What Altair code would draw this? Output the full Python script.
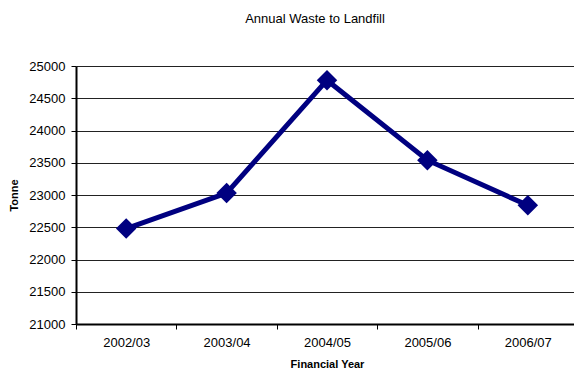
import altair as alt
import pandas as pd

years = ["2002/03", "2003/04", "2004/05", "2005/06", "2006/07"]
tonnes = [22480, 23030, 24780, 23540, 22840]
y_ticks = [21000, 21500, 22000, 22500, 23000, 23500, 24000, 24500, 25000]

df = pd.DataFrame({"year": years, "tonne": tonnes})

FONT = "Liberation Sans"

base = alt.Chart(df).encode(
    x=alt.X(
        "year:N",
        sort=years,
        bandPosition=0.5,
        scale=alt.Scale(type="band", paddingInner=0, paddingOuter=0, range=[0, 502]),
        axis=alt.Axis(
            title="Financial Year",
            labelAngle=0,
            tickBand="extent",
            grid=False,
            domainColor="#000000",
            domainWidth=2,
            tickColor="#000000",
            tickWidth=1,
            tickSize=5,
            labelPadding=7,
            labelFontSize=13,
            labelColor="#000000",
            labelFont=FONT,
            titleFont=FONT,
            titleFontSize=11,
            titleFontWeight="bold",
            titleColor="#000000",
            titlePadding=9,
        ),
    ),
    y=alt.Y(
        "tonne:Q",
        scale=alt.Scale(domain=[21000, 25000], nice=False, zero=False),
        axis=alt.Axis(
            title="Tonne",
            values=y_ticks,
            format="d",
            grid=True,
            gridColor="#222222",
            gridWidth=1,
            domainColor="#000000",
            domainWidth=2,
            tickColor="#000000",
            tickSize=5,
            labelPadding=6,
            labelFontSize=13,
            labelColor="#000000",
            labelFont=FONT,
            titleFont=FONT,
            titleFontSize=11,
            titleFontWeight="bold",
            titleColor="#000000",
            titlePadding=9,
        ),
    ),
)

line = base.mark_line(color="#000080", strokeWidth=5)
points = base.mark_point(shape="diamond", filled=True, size=420, color="#000080", opacity=1)

chart = (
    alt.layer(line, points)
    .properties(
        width=498,
        height=258,
        autosize=alt.AutoSizeParams(type="none"),
        padding={"left": 76, "top": 66, "right": 0, "bottom": 45},
        title=alt.TitleParams(
            "Annual Waste to Landfill",
            font=FONT,
            fontSize=13,
            fontWeight="normal",
            color="#000000",
            anchor="middle",
            dx=-10,
            offset=34,
        ),
    )
    .configure_view(stroke=None)
    .configure(background="white")
)

chart.save("out.html", embed_options={"renderer": "svg", "actions": False})
